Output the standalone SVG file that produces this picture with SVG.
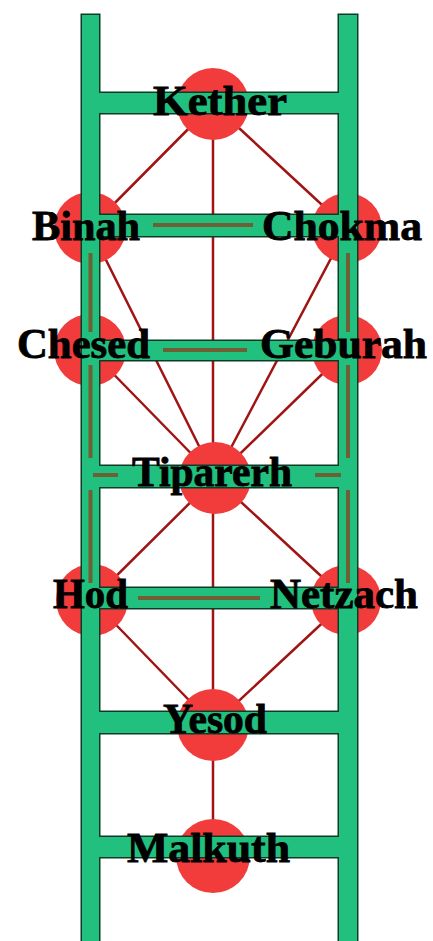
<svg xmlns="http://www.w3.org/2000/svg" width="433" height="941" viewBox="0 0 433 941">
<style>
.path{stroke:#a01414;stroke-width:2.5;fill:none;stroke-linecap:round}
.sef{fill:#f23c3c}
.lad{fill:#22c07f}
.ladout{fill:none;stroke:#0d3b28;stroke-width:3}
.stripe{stroke:#6f5f35;stroke-width:4;fill:none}
.lbl{font-family:"Liberation Serif","Times New Roman",serif;font-weight:bold;font-size:42px;fill:#000;stroke:#000;stroke-width:0.8}
</style>
<rect width="433" height="941" fill="#fff"/>
<g id="connectors">
<line class="path" x1="213" y1="104" x2="213" y2="856"/>
<line class="path" x1="213" y1="104" x2="90" y2="228"/>
<line class="path" x1="213" y1="104" x2="347" y2="228"/>
<line class="path" x1="90" y1="228" x2="215" y2="478"/>
<line class="path" x1="347" y1="228" x2="215" y2="478"/>
<line class="path" x1="90" y1="350" x2="215" y2="478"/>
<line class="path" x1="347" y1="350" x2="215" y2="478"/>
<line class="path" x1="215" y1="478" x2="92" y2="600"/>
<line class="path" x1="215" y1="478" x2="347" y2="600"/>
<line class="path" x1="92" y1="600" x2="213" y2="725"/>
<line class="path" x1="347" y1="600" x2="213" y2="725"/>
</g>
<g id="sephirot">
<circle id="kether" class="sef" cx="213" cy="104" r="36"/>
<circle id="binah" class="sef" cx="90" cy="228" r="36"/>
<circle id="chokma" class="sef" cx="347" cy="228" r="35"/>
<circle id="chesed" class="sef" cx="90" cy="350" r="36"/>
<circle id="geburah" class="sef" cx="347" cy="350" r="35"/>
<circle id="tiparerh" class="sef" cx="215" cy="478" r="36"/>
<circle id="hod" class="sef" cx="92" cy="600" r="36"/>
<circle id="netzach" class="sef" cx="346" cy="600" r="35"/>
<circle id="yesod" class="sef" cx="213" cy="725" r="36"/>
<circle id="malkuth" class="sef" cx="213" cy="856" r="37"/>
</g>
<g id="ladder">
<g class="ladout">
<rect x="82" y="15" width="17" height="930"/>
<rect x="339" y="15" width="18" height="930"/>
<rect x="99" y="93" width="240" height="20"/>
<rect x="99" y="215" width="240" height="21"/>
<rect x="99" y="341" width="240" height="19"/>
<rect x="99" y="466" width="240" height="21"/>
<rect x="99" y="588" width="240" height="20"/>
<rect x="99" y="712" width="240" height="21"/>
<rect x="99" y="837" width="240" height="20"/>
</g>
<g class="lad">
<rect x="82" y="15" width="17" height="930"/>
<rect x="339" y="15" width="18" height="930"/>
<rect x="98" y="93" width="242" height="20"/>
<rect x="98" y="215" width="242" height="21"/>
<rect x="98" y="341" width="242" height="19"/>
<rect x="98" y="466" width="242" height="21"/>
<rect x="98" y="588" width="242" height="20"/>
<rect x="98" y="712" width="242" height="21"/>
<rect x="98" y="837" width="242" height="20"/>
</g>
<g class="stripe">
<line x1="153" y1="225" x2="253" y2="225"/>
<line x1="163" y1="350" x2="247" y2="350"/>
<line x1="138" y1="598" x2="260" y2="598"/>
<line x1="93" y1="475" x2="118" y2="475"/>
<line x1="315" y1="475" x2="341" y2="475"/>
<line x1="90.5" y1="253" x2="90.5" y2="332"/>
<line x1="90.5" y1="365" x2="90.5" y2="458"/>
<line x1="90.5" y1="490" x2="90.5" y2="583"/>
<line x1="348" y1="253" x2="348" y2="332"/>
<line x1="348" y1="365" x2="348" y2="458"/>
<line x1="348" y1="490" x2="348" y2="583"/>
</g>
</g>
<g id="labels">
<text class="lbl" x="153" y="115" textLength="134" lengthAdjust="spacingAndGlyphs">Kether</text>
<text class="lbl" x="32" y="240" textLength="108" lengthAdjust="spacingAndGlyphs">Binah</text>
<text class="lbl" x="262" y="240" textLength="160" lengthAdjust="spacingAndGlyphs">Chokma</text>
<text class="lbl" x="17" y="358" textLength="133" lengthAdjust="spacingAndGlyphs">Chesed</text>
<text class="lbl" x="260" y="358" textLength="167" lengthAdjust="spacingAndGlyphs">Geburah</text>
<text class="lbl" x="132" y="486" textLength="160" lengthAdjust="spacingAndGlyphs">Tiparerh</text>
<text class="lbl" x="53" y="608" textLength="75" lengthAdjust="spacingAndGlyphs">Hod</text>
<text class="lbl" x="270" y="608" textLength="148" lengthAdjust="spacingAndGlyphs">Netzach</text>
<text class="lbl" x="163" y="733" textLength="104" lengthAdjust="spacingAndGlyphs">Yesod</text>
<text class="lbl" x="127" y="862" textLength="163" lengthAdjust="spacingAndGlyphs">Malkuth</text>
</g>
</svg>
